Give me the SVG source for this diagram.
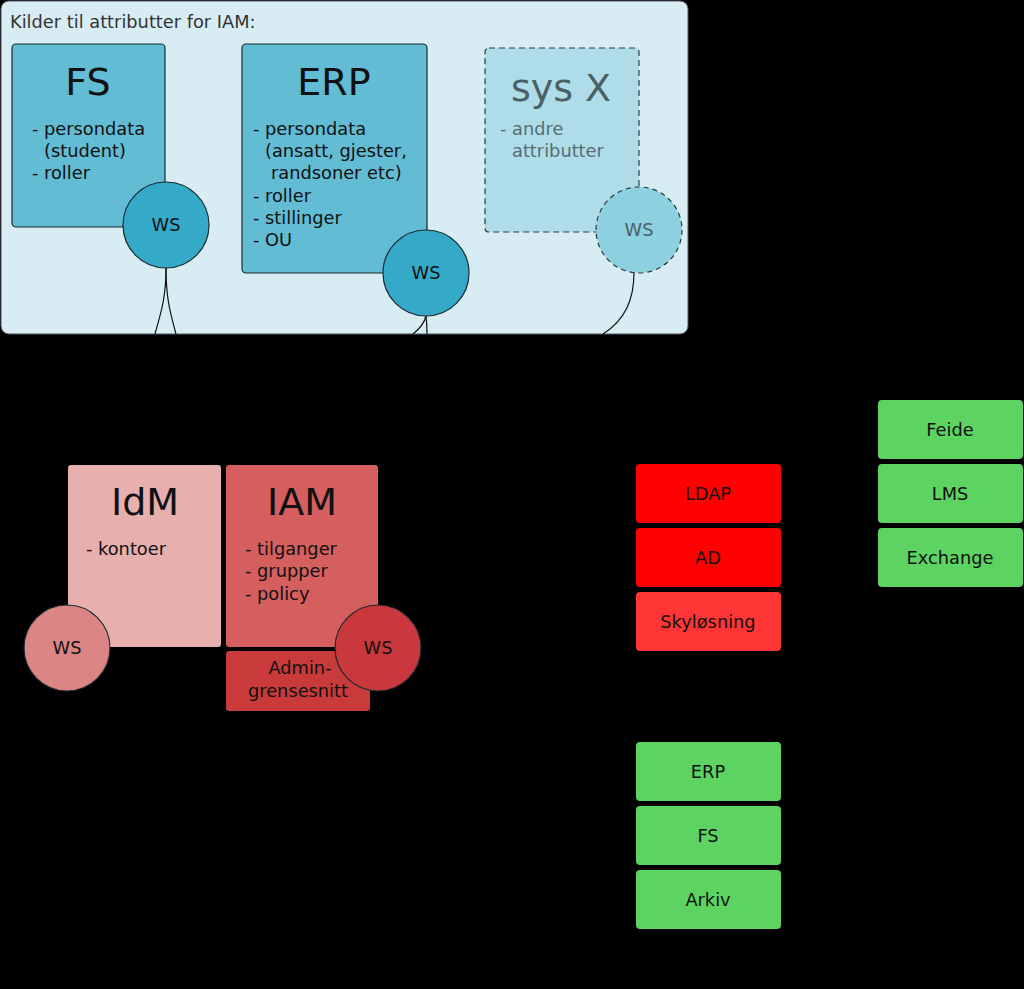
<svg xmlns="http://www.w3.org/2000/svg" width="1024" height="989" viewBox="0 0 1024 989">
<style>
text{font-family:"DejaVu Sans","Liberation Sans",sans-serif;fill:#111}
.t{font-size:17.8px}
.big{font-size:38px;text-anchor:middle}
.c{text-anchor:middle}
.ws{stroke:#1a2a30;stroke-width:1.2}
.conn{fill:none;stroke:#111;stroke-width:1.2}
.red{fill:#ff0000}
.grn{fill:#5dd462}
</style>
<rect x="0" y="0" width="1024" height="989" fill="#000"/>
<g id="panel">
<rect x="1" y="1" width="687" height="333" rx="8" fill="#d8edf3" stroke="#556" stroke-width="1"/>
<text x="10" y="28" class="t" style="fill:#333">Kilder til attributter for IAM:</text>
</g>
<g id="connectors">
<path class="conn" d="M166,268 C166,300 160,315 155,334"/>
<path class="conn" d="M166,268 C166,300 171,315 176,334"/>
<path class="conn" d="M426,316 C424,325 418,330 413,334"/>
<path class="conn" d="M426,316 C427,325 427,330 427,334"/>
<path class="conn" d="M634,272 C634,300 625,320 603,334"/>
</g>
<g id="fs">
<rect x="12" y="44" width="153" height="183" rx="4" fill="#62bcd4" stroke="#1a2a30" stroke-width="1.2"/>
<text x="88" y="95" class="big">FS</text>
<text x="32" y="135" class="t">- persondata</text>
<text x="44" y="157" class="t">(student)</text>
<text x="32" y="179" class="t">- roller</text>
</g>
<g id="fs-ws">
<circle cx="166" cy="225" r="43" fill="#35a9c8" class="ws"/>
<text x="166" y="231" class="t c">WS</text>
</g>
<g id="erp">
<rect x="242" y="44" width="185" height="229" rx="4" fill="#62bcd4" stroke="#1a2a30" stroke-width="1.2"/>
<text x="334" y="95" class="big">ERP</text>
<text x="253" y="135" class="t">- persondata</text>
<text x="265" y="157" class="t">(ansatt, gjester,</text>
<text x="271" y="179" class="t">randsoner etc)</text>
<text x="253" y="202" class="t">- roller</text>
<text x="253" y="224" class="t">- stillinger</text>
<text x="253" y="246" class="t">- OU</text>
</g>
<g id="erp-ws">
<circle cx="426" cy="273" r="43" fill="#35a9c8" class="ws"/>
<text x="426" y="279" class="t c">WS</text>
</g>
<g id="sysx">
<rect x="485" y="48" width="154" height="184" rx="4" fill="#aedde9" stroke="#2a3a40" stroke-width="1.2" stroke-dasharray="6,4"/>
<text x="561" y="101" class="big" style="fill:#4a5f66">sys X</text>
<text x="500" y="135" class="t" style="fill:#5a6c72">- andre</text>
<text x="512" y="157" class="t" style="fill:#5a6c72">attributter</text>
</g>
<g id="sysx-ws">
<circle cx="639" cy="230" r="43" fill="#8dd0e0" stroke="#2a3a40" stroke-width="1.2" stroke-dasharray="5,4"/>
<text x="639" y="236" class="t c" style="fill:#4a5f66">WS</text>
</g>
<g id="idm">
<rect x="68" y="465" width="153" height="182" rx="3" fill="#e8afaf"/>
<text x="145" y="515" class="big">IdM</text>
<text x="86" y="555" class="t">- kontoer</text>
</g>
<g id="idm-ws">
<circle cx="67" cy="648" r="43" fill="#dc8585" class="ws"/>
<text x="67" y="654" class="t c">WS</text>
</g>
<g id="iam">
<rect x="226" y="465" width="152" height="182" rx="3" fill="#d55f5f"/>
<text x="302" y="515" class="big">IAM</text>
<text x="245" y="555" class="t">- tilganger</text>
<text x="245" y="577" class="t">- grupper</text>
<text x="245" y="600" class="t">- policy</text>
</g>
<g id="admin">
<rect x="226" y="651" width="144" height="60" rx="3" fill="#c93a3a"/>
<text x="300" y="674" class="t c">Admin-</text>
<text x="298" y="697" class="t c">grensesnitt</text>
</g>
<g id="iam-ws">
<circle cx="378" cy="648" r="43" fill="#c8383c" class="ws"/>
<text x="378" y="654" class="t c">WS</text>
</g>
<g id="ldap"><rect x="636" y="464" width="145" height="59" rx="4" class="red"/><text x="708" y="500" class="t c">LDAP</text></g>
<g id="ad"><rect x="636" y="528" width="145" height="59" rx="4" class="red"/><text x="708" y="564" class="t c">AD</text></g>
<g id="sky"><rect x="636" y="592" width="145" height="59" rx="4" fill="#ff3535"/><text x="708" y="628" class="t c">Skyløsning</text></g>
<g id="feide"><rect x="878" y="400" width="145" height="59" rx="4" class="grn"/><text x="950" y="436" class="t c">Feide</text></g>
<g id="lms"><rect x="878" y="464" width="145" height="59" rx="4" class="grn"/><text x="950" y="500" class="t c">LMS</text></g>
<g id="exchange"><rect x="878" y="528" width="145" height="59" rx="4" class="grn"/><text x="950" y="564" class="t c">Exchange</text></g>
<g id="erp2"><rect x="636" y="742" width="145" height="59" rx="4" class="grn"/><text x="708" y="778" class="t c">ERP</text></g>
<g id="fs2"><rect x="636" y="806" width="145" height="59" rx="4" class="grn"/><text x="708" y="842" class="t c">FS</text></g>
<g id="arkiv"><rect x="636" y="870" width="145" height="59" rx="4" class="grn"/><text x="708" y="906" class="t c">Arkiv</text></g>
</svg>
